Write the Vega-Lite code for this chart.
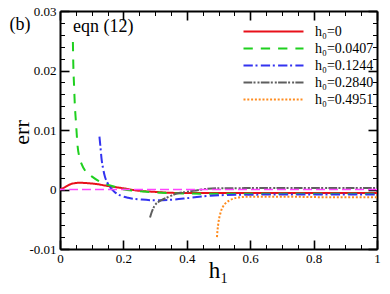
{
  "$schema": "https://vega.github.io/schema/vega-lite/v6.json",
  "width": 317,
  "height": 238,
  "autosize": {"type": "none"},
  "padding": {"left": 60, "top": 11, "right": 13, "bottom": 45},
  "background": "white",
  "config": {
    "view": {"stroke": null},
    "font": "Liberation Serif",
    "axis": {
      "domainColor": "black",
      "domainWidth": 2,
      "tickColor": "black",
      "grid": false,
      "zindex": 2,
      "labelFont": "Liberation Serif",
      "labelFontSize": 13,
      "labelColor": "black",
      "labelOverlap": false,
      "titleFont": "Liberation Serif",
      "titleColor": "black",
      "titleFontWeight": "normal"
    }
  },
  "layer": [
    {
      "layer": [
        {
          "data": {
            "values": [
              {"s": "h₀=0", "x": 0, "y": 0},
              {"s": "h₀=0", "x": 0.016, "y": 0.0004},
              {"s": "h₀=0", "x": 0.037, "y": 0.00096},
              {"s": "h₀=0", "x": 0.063, "y": 0.00113},
              {"s": "h₀=0", "x": 0.09, "y": 0.00105},
              {"s": "h₀=0", "x": 0.12, "y": 0.00088},
              {"s": "h₀=0", "x": 0.142, "y": 0.00067},
              {"s": "h₀=0", "x": 0.2, "y": 0.0002},
              {"s": "h₀=0", "x": 0.247, "y": -0.0002},
              {"s": "h₀=0", "x": 0.3, "y": -0.0004},
              {"s": "h₀=0", "x": 0.347, "y": -0.00055},
              {"s": "h₀=0", "x": 0.4, "y": -0.0006},
              {"s": "h₀=0", "x": 0.5, "y": -0.0006},
              {"s": "h₀=0", "x": 0.7, "y": -0.0006},
              {"s": "h₀=0", "x": 1, "y": -0.0006},
              {"s": "h₀=0.0407", "x": 0.0407, "y": 0.0248},
              {"s": "h₀=0.0407", "x": 0.042, "y": 0.021},
              {"s": "h₀=0.0407", "x": 0.0445, "y": 0.0173},
              {"s": "h₀=0.0407", "x": 0.047, "y": 0.014},
              {"s": "h₀=0.0407", "x": 0.05, "y": 0.0116},
              {"s": "h₀=0.0407", "x": 0.0557, "y": 0.0072},
              {"s": "h₀=0.0407", "x": 0.062, "y": 0.0053},
              {"s": "h₀=0.0407", "x": 0.068, "y": 0.0043},
              {"s": "h₀=0.0407", "x": 0.08, "y": 0.0031},
              {"s": "h₀=0.0407", "x": 0.1, "y": 0.0022},
              {"s": "h₀=0.0407", "x": 0.12, "y": 0.0015},
              {"s": "h₀=0.0407", "x": 0.142, "y": 0.00096},
              {"s": "h₀=0.0407", "x": 0.17, "y": 0.0005},
              {"s": "h₀=0.0407", "x": 0.195, "y": 0.0001},
              {"s": "h₀=0.0407", "x": 0.25, "y": -0.0003},
              {"s": "h₀=0.0407", "x": 0.29, "y": -0.00045},
              {"s": "h₀=0.0407", "x": 0.35, "y": -0.0006},
              {"s": "h₀=0.0407", "x": 0.45, "y": -0.0007},
              {"s": "h₀=0.0407", "x": 0.6, "y": -0.0007},
              {"s": "h₀=0.0407", "x": 1, "y": -0.0007},
              {"s": "h₀=0.1244", "x": 0.1244, "y": 0.0089},
              {"s": "h₀=0.1244", "x": 0.127, "y": 0.0075},
              {"s": "h₀=0.1244", "x": 0.131, "y": 0.0052},
              {"s": "h₀=0.1244", "x": 0.136, "y": 0.0035},
              {"s": "h₀=0.1244", "x": 0.142, "y": 0.0021},
              {"s": "h₀=0.1244", "x": 0.15, "y": 0.0011},
              {"s": "h₀=0.1244", "x": 0.158, "y": 0.0004},
              {"s": "h₀=0.1244", "x": 0.173, "y": -0.00045},
              {"s": "h₀=0.1244", "x": 0.19, "y": -0.001},
              {"s": "h₀=0.1244", "x": 0.215, "y": -0.0014},
              {"s": "h₀=0.1244", "x": 0.258, "y": -0.0017},
              {"s": "h₀=0.1244", "x": 0.3, "y": -0.00182},
              {"s": "h₀=0.1244", "x": 0.347, "y": -0.00174},
              {"s": "h₀=0.1244", "x": 0.41, "y": -0.0014},
              {"s": "h₀=0.1244", "x": 0.473, "y": -0.00105},
              {"s": "h₀=0.1244", "x": 0.557, "y": -0.0009},
              {"s": "h₀=0.1244", "x": 0.7, "y": -0.00085},
              {"s": "h₀=0.1244", "x": 1, "y": -0.00085},
              {"s": "h₀=0.2840", "x": 0.284, "y": -0.0047},
              {"s": "h₀=0.2840", "x": 0.29, "y": -0.0037},
              {"s": "h₀=0.2840", "x": 0.3, "y": -0.0026},
              {"s": "h₀=0.2840", "x": 0.31, "y": -0.0021},
              {"s": "h₀=0.2840", "x": 0.32, "y": -0.0018},
              {"s": "h₀=0.2840", "x": 0.34, "y": -0.0013},
              {"s": "h₀=0.2840", "x": 0.368, "y": -0.0007},
              {"s": "h₀=0.2840", "x": 0.4, "y": -0.0004},
              {"s": "h₀=0.2840", "x": 0.43, "y": -0.00015},
              {"s": "h₀=0.2840", "x": 0.46, "y": 0.0001},
              {"s": "h₀=0.2840", "x": 0.5, "y": 0.0002},
              {"s": "h₀=0.2840", "x": 0.7, "y": 0.00025},
              {"s": "h₀=0.2840", "x": 1, "y": 0.00025},
              {"s": "h₀=0.4951", "x": 0.4951, "y": -0.008},
              {"s": "h₀=0.4951", "x": 0.497, "y": -0.0068},
              {"s": "h₀=0.4951", "x": 0.5, "y": -0.0055},
              {"s": "h₀=0.4951", "x": 0.507, "y": -0.0038},
              {"s": "h₀=0.4951", "x": 0.515, "y": -0.0028},
              {"s": "h₀=0.4951", "x": 0.525, "y": -0.0022},
              {"s": "h₀=0.4951", "x": 0.536, "y": -0.0018},
              {"s": "h₀=0.4951", "x": 0.557, "y": -0.0014},
              {"s": "h₀=0.4951", "x": 0.6, "y": -0.0012},
              {"s": "h₀=0.4951", "x": 0.7, "y": -0.0012},
              {"s": "h₀=0.4951", "x": 0.85, "y": -0.0013},
              {"s": "h₀=0.4951", "x": 1, "y": -0.0013}
            ]
          },
          "mark": {"type": "line", "strokeWidth": 2, "interpolate": "monotone", "clip": true},
          "encoding": {
            "x": {
              "field": "x", "type": "quantitative",
              "scale": {"domain": [0, 1], "nice": false, "zero": false},
              "axis": {
                "orient": "bottom",
                "values": [0, 0.2, 0.4, 0.6, 0.8, 1],
                "ticks": false,
                "labelExpr": "format(datum.value, '~g')",
                "labelPadding": 3,
                "labelFlush": false,
                "title": "h₁",
                "titleFontSize": 23,
                "titleBaseline": "alphabetic",
                "titleX": 158,
                "titleY": 28
              }
            },
            "y": {
              "field": "y", "type": "quantitative",
              "scale": {"domain": [-0.01, 0.03], "nice": false, "zero": false},
              "axis": {
                "orient": "left",
                "values": [-0.01, 0, 0.01, 0.02, 0.03],
                "ticks": false,
                "labelExpr": "replace(format(datum.value, '~g'), '−', '-')",
                "labelPadding": 4,
                "labelFlush": false,
                "title": "err",
                "titleFontSize": 22,
                "titleBaseline": "alphabetic",
                "titleAngle": -90,
                "titleAlign": "center",
                "titleX": -32,
                "titleY": 121
              }
            },
            "color": {
              "field": "s", "type": "nominal",
              "scale": {
                "domain": ["h₀=0", "h₀=0.0407", "h₀=0.1244", "h₀=0.2840", "h₀=0.4951"],
                "range": ["#e8101a", "#1fd01f", "#3333f0", "#5e5e5e", "#ff8c1f"]
              },
              "legend": {
                "title": null, "orient": "none", "legendX": 205, "legendY": 12,
                "symbolType": "M-4,0H4", "symbolSize": 225, "symbolStrokeWidth": 2,
                "symbolFillColor": "transparent",
                "labelOffset": 33, "labelFontSize": 14, "labelFont": "Liberation Serif",
                "labelColor": "black", "rowPadding": 1, "padding": 0
              }
            },
            "strokeDash": {
              "field": "s", "type": "nominal",
              "scale": {
                "domain": ["h₀=0", "h₀=0.0407", "h₀=0.1244", "h₀=0.2840", "h₀=0.4951"],
                "range": [[1, 0], [9.3, 8], [9.3, 2.7, 2, 3.3], [8.7, 1.3, 2, 2, 2, 1.3], [2, 1.8]]
              },
              "legend": {
                "title": null, "orient": "none", "legendX": 205, "legendY": 12,
                "symbolType": "M-4,0H4", "symbolSize": 225, "symbolStrokeWidth": 2,
                "symbolFillColor": "transparent",
                "labelOffset": 33, "labelFontSize": 14, "labelFont": "Liberation Serif",
                "labelColor": "black", "rowPadding": 1, "padding": 0
              }
            }
          }
        },
        {
          "data": {"values": [{}]},
          "mark": {"type": "rule", "color": "#ff44ff", "strokeWidth": 1.5, "strokeDash": [9, 4]},
          "encoding": {"y": {"datum": 0}}
        },
        {
          "data": {"values": [{}]},
          "mark": {"type": "text", "text": "(b)", "fontSize": 18, "font": "Liberation Serif", "align": "center", "baseline": "middle", "color": "black"},
          "encoding": {"x": {"datum": -0.126}, "y": {"datum": 0.0277}}
        },
        {
          "data": {"values": [{}]},
          "mark": {"type": "text", "text": "eqn (12)", "fontSize": 18, "font": "Liberation Serif", "align": "left", "baseline": "middle", "color": "black"},
          "encoding": {"x": {"datum": 0.041}, "y": {"datum": 0.0273}}
        }
      ]
    },
    {
      "data": {"values": [{"x": 0, "y": 0}]},
      "mark": {"type": "point", "opacity": 0},
      "encoding": {
        "x": {
          "field": "x", "type": "quantitative",
          "scale": {"domain": [0, 1], "nice": false, "zero": false},
          "axis": {
            "orient": "top",
            "offset": -238,
            "domain": false,
            "values": [0, 0.05, 0.1, 0.15, 0.2, 0.25, 0.3, 0.35, 0.4, 0.45, 0.5, 0.55, 0.6, 0.65, 0.7, 0.75, 0.8, 0.85, 0.9, 0.95, 1],
            "tickSize": {"condition": {"test": "abs(datum.value*5 - round(datum.value*5)) < 0.001", "value": 9}, "value": 4.5},
            "tickWidth": {"condition": {"test": "abs(datum.value*5 - round(datum.value*5)) < 0.001", "value": 1.6}, "value": 1},
            "labels": false,
            "title": null
          }
        },
        "y": {
          "field": "y", "type": "quantitative",
          "scale": {"domain": [-0.01, 0.03], "nice": false, "zero": false},
          "axis": {
            "orient": "right",
            "offset": -317,
            "domain": false,
            "values": [-0.01, -0.008, -0.006, -0.004, -0.002, 0, 0.002, 0.004, 0.006, 0.008, 0.01, 0.012, 0.014, 0.016, 0.018, 0.02, 0.022, 0.024, 0.026, 0.028, 0.03],
            "tickSize": {"condition": {"test": "abs(datum.value*100 - round(datum.value*100)) < 0.01", "value": 9}, "value": 4.5},
            "tickWidth": {"condition": {"test": "abs(datum.value*100 - round(datum.value*100)) < 0.01", "value": 1.6}, "value": 1},
            "labels": false,
            "title": null
          }
        }
      }
    },
    {
      "data": {"values": [{"x": 0, "y": 0}]},
      "mark": {"type": "point", "opacity": 0},
      "encoding": {
        "x": {
          "field": "x", "type": "quantitative",
          "scale": {"domain": [0, 1], "nice": false, "zero": false},
          "axis": {
            "orient": "bottom",
            "offset": -238,
            "values": [0, 0.05, 0.1, 0.15, 0.2, 0.25, 0.3, 0.35, 0.4, 0.45, 0.5, 0.55, 0.6, 0.65, 0.7, 0.75, 0.8, 0.85, 0.9, 0.95, 1],
            "tickSize": {"condition": {"test": "abs(datum.value*5 - round(datum.value*5)) < 0.001", "value": 9}, "value": 4.5},
            "tickWidth": {"condition": {"test": "abs(datum.value*5 - round(datum.value*5)) < 0.001", "value": 1.6}, "value": 1},
            "labels": false,
            "title": null
          }
        },
        "y": {
          "field": "y", "type": "quantitative",
          "scale": {"domain": [-0.01, 0.03], "nice": false, "zero": false},
          "axis": {
            "orient": "left",
            "offset": -317,
            "values": [-0.01, -0.008, -0.006, -0.004, -0.002, 0, 0.002, 0.004, 0.006, 0.008, 0.01, 0.012, 0.014, 0.016, 0.018, 0.02, 0.022, 0.024, 0.026, 0.028, 0.03],
            "tickSize": {"condition": {"test": "abs(datum.value*100 - round(datum.value*100)) < 0.01", "value": 9}, "value": 4.5},
            "tickWidth": {"condition": {"test": "abs(datum.value*100 - round(datum.value*100)) < 0.01", "value": 1.6}, "value": 1},
            "labels": false,
            "title": null
          }
        }
      }
    }
  ],
  "resolve": {"scale": {"x": "independent", "y": "independent"}}
}
